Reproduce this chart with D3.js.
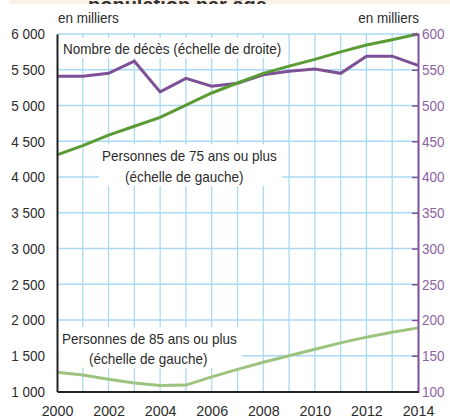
<!DOCTYPE html>
<html><head><meta charset="utf-8">
<script src="https://cdn.jsdelivr.net/npm/d3@7"></script>
<style>
body{margin:0;background:#fff;}
svg{display:block;font-family:"Liberation Sans",Arial,sans-serif;}
</style></head>
<body>
<svg id="c" width="450" height="417"></svg>
<script>
const years = [2000,2001,2002,2003,2004,2005,2006,2007,2008,2009,2010,2011,2012,2013,2014];
const pop75 = [4310,4440,4585,4710,4835,5005,5175,5315,5450,5550,5645,5750,5845,5920,6000];
const pop85 = [1270,1230,1170,1120,1085,1090,1205,1310,1410,1500,1590,1680,1760,1830,1890];
const deaths = [541,541,545,562,519,538,527,531,543,548,551,545,569,569,556];
const leftTicks = [1000,1500,2000,2500,3000,3500,4000,4500,5000,5500,6000];
const rightTicks = [100,150,200,250,300,350,400,450,500,550,600];
const yearTicks = [2000,2002,2004,2006,2008,2010,2012,2014];

const svg = d3.select("#c");
const L = 57, R = 418, T = 34, B = 391.5;
const x = d3.scaleLinear().domain([2000,2014]).range([L,R]);
const yL = d3.scaleLinear().domain([1000,6000]).range([B,T]);
const yR = d3.scaleLinear().domain([100,600]).range([B,T]);
const fmt = d3.formatLocale({decimal:",",thousands:" ",grouping:[3],currency:["","€"]}).format(",d");
const cond = 0.9;
function condense(sel, k){ sel.each(function(){ const w=this.getComputedTextLength(); d3.select(this).attr("textLength", w*(k||cond)).attr("lengthAdjust","spacingAndGlyphs"); }); }

// top band with title cut off by the frame
svg.append("rect").attr("x",9).attr("y",0).attr("width",441).attr("height",4).attr("fill","#fcf1e7");
svg.append("text").attr("x",88).attr("y",12).attr("font-size",20).attr("font-weight","bold").attr("fill","#333").text("population par âge");
svg.append("rect").attr("x",0).attr("y",4).attr("width",450).attr("height",30).attr("fill","#fff");

// grid
const grid = svg.append("g").attr("stroke","#aadaf3").attr("stroke-width",1.3);
grid.selectAll("line.v").data(years.slice(1,-1)).join("line")
  .attr("x1",d=>x(d)).attr("x2",d=>x(d)).attr("y1",T).attr("y2",B);
grid.selectAll("line.h").data(leftTicks.slice(1)).join("line")
  .attr("x1",L).attr("x2",R).attr("y1",d=>yL(d)).attr("y2",d=>yL(d));

// labels layer (with white boxes)
const labG = svg.append("g");
function label(lines, x0s, ys){
  const g = labG.append("g");
  const rect = g.append("rect").attr("fill","#fff");
  const ts = lines.map((t,i)=>g.append("text").attr("x",x0s[i]).attr("y",ys[i]).attr("font-size",15).attr("fill","#2b2b2b").text(t));
  ts.forEach(t=>condense(t));
  const bb = g.node().getBBox();
  rect.attr("x",bb.x-3).attr("y",bb.y-2).attr("width",bb.width+8).attr("height",bb.height+3);
}
label(["Nombre de décès (échelle de droite)"],[63],[54]);
label(["Personnes de 75 ans ou plus","(échelle de gauche)"],[102,125],[160.5,182]);
label(["Personnes de 85 ans ou plus","(échelle de gauche)"],[62,89],[343.5,364]);

// series lines
const lineL = d3.line().x((d,i)=>x(years[i])).y(d=>yL(d));
const lineR = d3.line().x((d,i)=>x(years[i])).y(d=>yR(d));
svg.append("path").datum(pop85).attr("d",lineL).attr("fill","none").attr("stroke","#9dc47f").attr("stroke-width",3);
svg.append("path").datum(deaths).attr("d",lineR).attr("fill","none").attr("stroke","#7e5197").attr("stroke-width",3);
svg.append("path").datum(pop75).attr("d",lineL).attr("fill","none").attr("stroke","#5b9b33").attr("stroke-width",3);

// axes
const axL = svg.append("g").attr("transform",`translate(${L},0)`)
  .call(d3.axisLeft(yL).tickValues(leftTicks).tickSize(0).tickPadding(12).tickFormat(fmt));
axL.select(".domain").attr("stroke","#222").attr("stroke-width",2);
axL.selectAll("text").attr("font-size",15).attr("fill","#2b2b2b").attr("font-family","Liberation Sans, Arial").call(condense);

const axR = svg.append("g").attr("transform",`translate(${R},0)`)
  .call(d3.axisRight(yR).tickValues(rightTicks).tickSize(-6).tickPadding(4));
axR.select(".domain").attr("stroke","#7e5197").attr("stroke-width",2);
axR.selectAll(".tick line").attr("stroke","#7e5197").attr("stroke-width",1.5);
axR.selectAll("text").attr("font-size",15).attr("fill","#8c62a3").attr("font-family","Liberation Sans, Arial").call(condense);

const axB = svg.append("g").attr("transform",`translate(0,${B})`)
  .call(d3.axisBottom(x).tickValues(yearTicks).tickSize(0).tickPadding(14).tickFormat(d3.format("d")));
axB.select(".domain").attr("stroke","#222").attr("stroke-width",2);
axB.selectAll("text").attr("font-size",15).attr("fill","#2b2b2b").attr("font-family","Liberation Sans, Arial").call(s=>condense(s,0.95));

// unit labels
svg.append("text").attr("x",58).attr("y",23).attr("font-size",15).attr("fill","#2b2b2b").text("en milliers").call(condense);
svg.append("text").attr("x",419).attr("y",23).attr("text-anchor","end").attr("font-size",15).attr("fill","#2b2b2b").text("en milliers").call(condense);
</script>
</body></html>
